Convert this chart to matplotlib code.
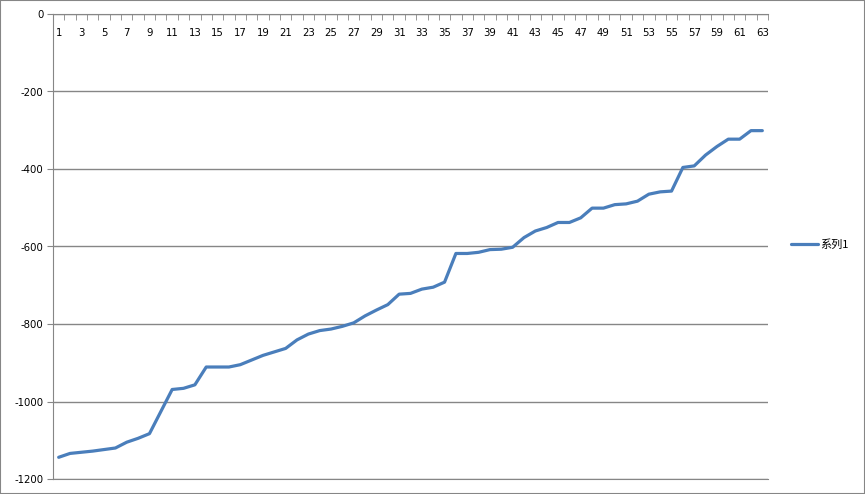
import matplotlib.pyplot as plt
import numpy as np
from matplotlib.patches import Rectangle

plt.rcParams['font.family'] = ['DejaVu Sans', 'Noto Sans CJK SC']

# series values (categories 1..63)
values = [-1144, -1134, -1131, -1128, -1124, -1120, -1105, -1095, -1083, -1026,
          -969, -966, -957, -911, -911, -911, -905, -893, -881, -872,
          -863, -841, -826, -817, -813, -806, -797, -779, -764, -750,
          -723, -721, -710, -705, -692, -618, -618, -615, -608, -607,
          -602, -577, -560, -551, -538, -538, -526, -501, -501, -492,
          -490, -483, -465, -459, -457, -396, -392, -364, -342, -323,
          -323, -301, -301]
categories = list(range(1, len(values) + 1))
yticks = [0, -200, -400, -600, -800, -1000, -1200]
series_name = "系列1"

grey = "#868686"

fig = plt.figure(figsize=(8.65, 4.94), dpi=100)
ax = fig.add_axes([53/865, 1 - 479/494, (768-53)/865, (479-14)/494])

ax.plot(categories, values, color="#4A7EBB", linewidth=2.3, label=series_name,
        solid_capstyle="round", solid_joinstyle="round")

ax.set_xlim(0.5, len(values) + 0.5)
ax.set_ylim(-1200, 0)

# y axis
ax.set_yticks(yticks)
ax.set_yticklabels([str(v) for v in yticks])
ax.tick_params(axis='y', direction='out', length=4, color=grey, labelsize=7.3, pad=3)
ax.yaxis.grid(True, color=grey, linewidth=1)

# x axis at the top (y = 0), labels just below the line
ax.set_xticks(categories[::2])
ax.set_xticklabels([str(c) for c in categories[::2]])
ax.set_xticks(np.arange(0.5, len(values) + 1, 1), minor=True)
ax.tick_params(axis='x', which='major', top=True, bottom=False, labeltop=True,
               labelbottom=False, length=0, labelsize=7.3, pad=-17)
ax.tick_params(axis='x', which='minor', top=True, bottom=False, direction='in',
               length=4, color=grey)

for s in ['left', 'top', 'bottom']:
    ax.spines[s].set_color(grey)
ax.spines['right'].set_visible(False)

ax.legend(loc='center left', bbox_to_anchor=(785/865, 1 - 245/494),
          bbox_transform=fig.transFigure, frameon=False,
          prop={'family': ['Noto Sans CJK SC', 'DejaVu Sans'], 'size': 8},
          handlelength=2.5, handletextpad=0.2, borderpad=0)

fig.patches.append(Rectangle((0, 0), 1, 1, transform=fig.transFigure,
                             fill=False, edgecolor=grey, linewidth=1.5))

fig.savefig("out.png", dpi=100)
